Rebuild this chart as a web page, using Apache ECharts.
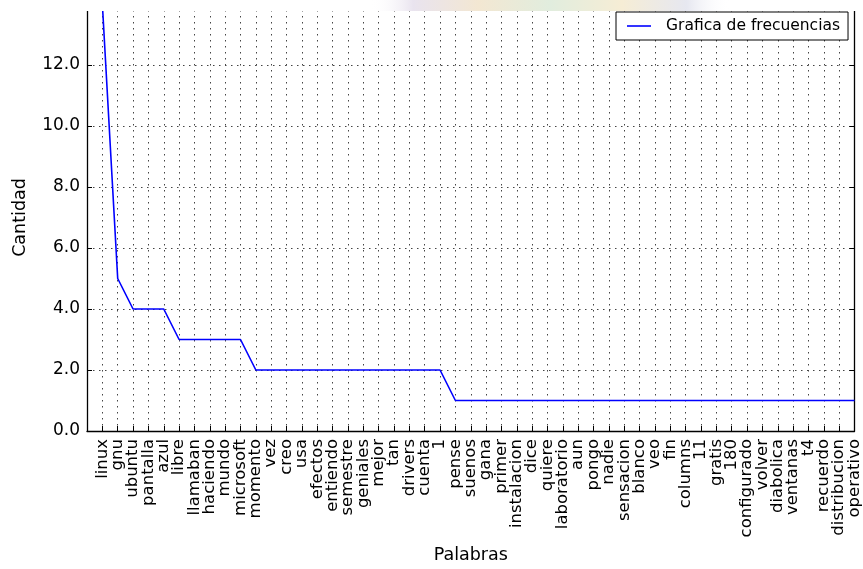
<!DOCTYPE html>
<html>
<head>
<meta charset="utf-8">
<script src="https://cdn.jsdelivr.net/npm/echarts@6/dist/echarts.min.js"></script>
<style>
  html, body { margin: 0; padding: 0; background: #fff; }
  #chart { width: 863px; height: 569px; }
</style>
</head>
<body>
<div id="chart"></div>
<script>
// Word frequency list, most frequent first
const palabras = [
  'linux', 'gnu', 'ubuntu', 'pantalla', 'azul', 'libre', 'llamaban', 'haciendo',
  'mundo', 'microsoft', 'momento', 'vez', 'creo', 'usa', 'efectos', 'entiendo',
  'semestre', 'geniales', 'mejor', 'tan', 'drivers', 'cuenta', '1', 'pense',
  'suenos', 'gana', 'primer', 'instalacion', 'dice', 'quiere', 'laboratorio', 'aun',
  'pongo', 'nadie', 'sensacion', 'blanco', 'veo', 'fin', 'columns', '11',
  'gratis', '180', 'configurado', 'volver', 'diabolica', 'ventanas', 't4', 'recuerdo',
  'distribucion', 'operativo'
];
const cantidades = [
  14, 5, 4, 4, 4, 3, 3, 3, 3, 3,
  2, 2, 2, 2, 2, 2, 2, 2, 2, 2, 2, 2, 2,
  1, 1, 1, 1, 1, 1, 1, 1, 1, 1, 1, 1, 1, 1, 1, 1, 1, 1, 1, 1, 1, 1, 1, 1, 1, 1, 1
];
const yTicks = [0, 2, 4, 6, 8, 10, 12, 14];

const FONT = 'DejaVu Sans';
// a blank slot before the first word leaves one step of margin at the left edge
const categorias = [''].concat(palabras);
const puntos = palabras.map((p, i) => [p, cantidades[i]]);

const gridDots = { color: '#444', width: 1, type: [1.5, 4.5] };
const spine = { color: '#000', width: 1.3 };
const ticks = { show: true, inside: true, length: 5, lineStyle: { color: '#000', width: 1 } };

const chart = echarts.init(document.getElementById('chart'), null, { renderer: 'canvas' });
chart.setOption({
  animation: false,
  backgroundColor: '#fff',
  textStyle: { fontFamily: FONT },
  grid: { left: 87, right: 8, top: 4, bottom: 135, containLabel: false },
  legend: {
    left: 616, top: 12,
    padding: [6, 8, 6, 11],
    borderColor: '#000', borderWidth: 1, borderRadius: 0,
    backgroundColor: '#fff',
    icon: 'rect',
    itemWidth: 24, itemHeight: 1.6,
    itemStyle: { color: '#0000ff' },
    textStyle: { fontFamily: FONT, fontSize: 15.5, color: '#000', padding: [0, 0, 0, 10] },
    data: ['Grafica de frecuencias']
  },
  xAxis: {
    type: 'category',
    data: categorias,
    boundaryGap: false,
    name: 'Palabras', nameLocation: 'middle', nameGap: 115,
    nameTextStyle: { fontFamily: FONT, fontSize: 17.5, color: '#000' },
    axisLine: { show: true, onZero: false, lineStyle: spine },
    axisTick: Object.assign({ interval: 0 }, ticks),
    axisLabel: {
      interval: 0, rotate: 90, margin: 8, fontFamily: FONT, fontSize: 16.5,
      color: '#000', hideOverlap: false
    },
    splitLine: { show: true, interval: 0, lineStyle: gridDots }
  },
  yAxis: [
    {
      type: 'value',
      min: yTicks[0], max: yTicks[yTicks.length - 1], interval: 2,
      name: 'Cantidad', nameLocation: 'middle', nameGap: 58,
      nameTextStyle: { fontFamily: FONT, fontSize: 17.5, color: '#000' },
      axisLine: { show: true, onZero: false, lineStyle: spine },
      axisTick: ticks,
      axisLabel: {
        margin: 7, fontFamily: FONT, fontSize: 17, color: '#000',
        showMaxLabel: false,
        formatter: v => v.toFixed(1)
      },
      splitLine: { show: true, lineStyle: gridDots }
    },
    {
      type: 'value', position: 'right',
      min: yTicks[0], max: yTicks[yTicks.length - 1], interval: 2,
      axisLine: { show: true, onZero: false, lineStyle: spine },
      axisTick: ticks,
      axisLabel: { show: false },
      splitLine: { show: false }
    }
  ],
  series: [{
    name: 'Grafica de frecuencias',
    type: 'line',
    data: puntos,
    symbol: 'none',
    lineStyle: { color: '#0000ff', width: 1.6 },
    itemStyle: { color: '#0000ff' },
    clip: true
  }],
  graphic: [
    // pale header banner across the top edge
    {
      type: 'rect', z: 100, silent: true,
      shape: { x: 0, y: 0, width: 863, height: 11 },
      style: { fill: '#fff' }
    },
    {
      type: 'rect', z: 101, silent: true,
      shape: { x: 370, y: 0, width: 360, height: 11 },
      style: {
        fill: new echarts.graphic.LinearGradient(0, 0, 1, 0, [
          { offset: 0, color: 'rgba(255,255,255,0)' },
          { offset: 0.12, color: 'rgba(215,205,225,0.55)' },
          { offset: 0.3, color: 'rgba(235,215,180,0.6)' },
          { offset: 0.5, color: 'rgba(205,225,200,0.6)' },
          { offset: 0.7, color: 'rgba(240,225,185,0.6)' },
          { offset: 0.88, color: 'rgba(210,212,228,0.55)' },
          { offset: 1, color: 'rgba(255,255,255,0)' }
        ])
      }
    }
  ]
});
</script>
</body>
</html>
